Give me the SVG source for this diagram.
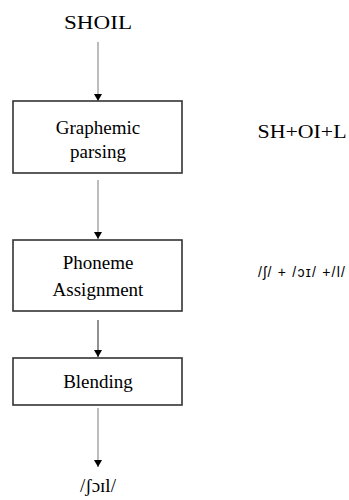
<svg xmlns="http://www.w3.org/2000/svg" width="349" height="500" viewBox="0 0 349 500">
<defs>
<marker id="ah" markerWidth="8" markerHeight="8" refX="7" refY="4" orient="auto" markerUnits="userSpaceOnUse">
<path d="M0,0 L7,4 L0,8 Z" fill="#000"/>
</marker>
<style>
.box{fill:#fff;stroke:#333;stroke-width:1.6}
.t{font-size:19px;fill:#000;text-anchor:middle}
.ipa{font-size:14px;fill:#000}
.c{stroke:#999;stroke-width:1.3;fill:none;marker-end:url(#ah)}
</style>
</defs>
<rect width="349" height="500" fill="#fff"/>
<g id="connectors">
<line class="c" x1="98" y1="42" x2="98" y2="101"/>
<line class="c" x1="98" y1="180" x2="98" y2="239"/>
<line class="c" x1="98" y1="320" x2="98" y2="357" style="stroke:#555"/>
<line class="c" x1="98" y1="408" x2="98" y2="467"/>
</g>
<g font-family="'Liberation Serif', 'DejaVu Serif', serif">
<g id="input"><text class="t" x="98" y="29" textLength="68" lengthAdjust="spacingAndGlyphs">SHOIL</text></g>
<g id="graphemic">
<rect class="box" x="13" y="101" width="169" height="72"/>
<text class="t" x="98" y="134">Graphemic</text>
<text class="t" x="98" y="158">parsing</text>
</g>
<g id="phoneme">
<rect class="box" x="13" y="240" width="169" height="71"/>
<text class="t" x="98" y="269">Phoneme</text>
<text class="t" x="98" y="296">Assignment</text>
</g>
<g id="blending">
<rect class="box" x="13" y="358" width="169" height="47"/>
<text class="t" x="98" y="388">Blending</text>
</g>
<g id="output"><text class="t" x="98" y="492">/ʃɔɪl/</text></g>
<g id="label1"><text class="t" x="302" y="138" textLength="89" lengthAdjust="spacingAndGlyphs">SH+OI+L</text></g>
</g>
<g id="label2" font-family="'Liberation Sans', Arial, sans-serif"><text class="ipa" x="258" y="277" textLength="87" lengthAdjust="spacing">/ʃ/ + /ɔɪ/ +/l/</text></g>
</svg>
